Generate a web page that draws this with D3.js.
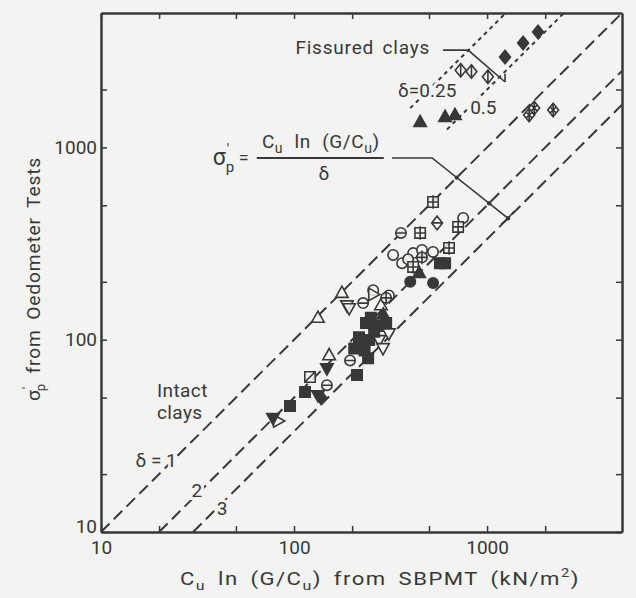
<!DOCTYPE html>
<html>
<head>
<meta charset="utf-8">
<title>Preconsolidation pressure vs SBPMT</title>
<script src="https://d3js.org/d3.v7.min.js"></script>
<style>
  body { margin: 0; background: #f3f3f1; }
  svg { display: block; font-family: Roboto, 'Open Sans', sans-serif; }
  .axis path, .axis line { stroke: #383838; }
  .axis path { stroke-width: 2.5; }
  .axis line { stroke-width: 1.5; }
  .axis text { font-family: Roboto, sans-serif; font-size: 19px; fill: #383838; }
  .lbl { fill: #383838; }
</style>
</head>
<body>
<svg id="chart" width="636" height="598"></svg>
<script>
// ticks
const tickVals = [10, 20, 50, 100, 200, 500, 1000, 2000];
const tickLabels = [10, 100, 1000];

// reference lines  sigma'p = Cu ln(G/Cu) / delta
const intactDeltas = [1, 2, 3];
const fissuredDeltas = [0.25, 0.5];
const fissuredXRange = [[400, 1250], [620, 2500]];

// fissured clays  [Cu ln(G/Cu), sigma'p]
const fisFilledDiamond = [[1239, 2951], [1537, 3490], [1837, 3981]];
const fisBarDiamond = [[730, 2520], [830, 2480], [1010, 2330]];
const fisFilledTri = [[450, 1355], [606, 1439], [682, 1473]];
const fisCrossDiamond = [[1651, 1473], [1754, 1603], [2199, 1565]];

// intact clays
const intSqFilled = [[570, 250], [606, 250], [236, 122], [217, 103], [228, 99.6], [245, 99.6],
  [242, 80], [212, 65.5], [114, 53.5], [95.3, 45.2], [260, 110], [250, 130], [205, 90], [300, 122],
  [270, 118], [232, 88]];
const intSqCross = [[525, 520], [450, 359], [708, 386], [635, 300], [414, 239]];
const intSqSlash = [[121, 64]];
const intDiamondBar = [[551, 405]];
const intCircleBar = [[358, 359], [228, 155], [195, 78], [148, 58]];
const intCircleOpen = [[752, 430], [326, 276], [363, 250], [414, 282], [460, 293], [525, 286], [257, 181], [310, 170], [390, 262]];
const intCircleFilled = [[525, 197], [400, 200]];
const intCirclePlus = [[300, 165], [460, 268]];
const intTriOpen = [[133, 130], [177, 175], [282, 151], [152, 83]];
const intTriFilled = [[445, 222], [290, 135]];
const intTriDownOpen = [[188, 151], [193, 146], [276, 99.6], [289, 90.5], [310, 108]];
const intTriDownFilled = [[148, 71], [77.8, 39.2], [133, 51.5]];
const intTriRight = [[82.6, 37.8], [257, 172]];
const intDiamondFilled = [[138, 50]];

// annotation anchors (data units)
const formulaAnchor = [136, 881];
const formulaLeader = [[322, 881], [519, 881], [1285, 428]];
const fissuredLeader = [[591, 3206], [798, 3206], [1239, 2188]];
const deltaLabels = [
  { t: 'δ = 1', x: 19.3, y: 23.7 },
  { t: '2', x: 31.4, y: 16.5 },
  { t: '3', x: 42.4, y: 13.3 },
  { t: 'δ=0.25', x: 346, y: 1828, a: 'start' },
  { t: '0.5', x: 817, y: 1492, a: 'start' }
];

const ink = '#383838';
const bg = '#f3f3f1';
const svg = d3.select('#chart');

const x = d3.scaleLog().domain([10, 5000]).range([101, 622]);
const y = d3.scaleLog().domain([10, 5000]).range([532, 13]);

// axes
const fmt = d => tickLabels.includes(d) ? d : '';
svg.append('g').attr('class', 'axis').attr('transform', 'translate(0,532)')
  .call(d3.axisBottom(x).tickValues(tickVals).tickFormat(fmt).tickSize(-6).tickSizeOuter(0).tickPadding(9));
const yAxis = svg.append('g').attr('class', 'axis').attr('transform', 'translate(101,0)')
  .call(d3.axisLeft(y).tickValues(tickVals).tickFormat(fmt).tickSize(-6).tickSizeOuter(0).tickPadding(4));
yAxis.selectAll('.tick text').filter(d => d === 10).attr('dy', '0.05em');
svg.append('g').attr('class', 'axis').attr('transform', 'translate(0,13)')
  .call(d3.axisTop(x).tickValues(tickVals).tickFormat('').tickSize(-6).tickSizeOuter(0));
svg.append('g').attr('class', 'axis').attr('transform', 'translate(622,0)')
  .call(d3.axisRight(y).tickValues(tickVals).tickFormat('').tickSize(-6).tickSizeOuter(0));

// reference lines
const line = d3.line().x(d => x(d[0])).y(d => y(d[1]));
svg.selectAll('.intact').data(intactDeltas).enter().append('path')
  .attr('d', dl => line([[10 * dl, 10], [5000, 5000 / dl]]))
  .attr('fill', 'none').attr('stroke', ink).attr('stroke-width', 2)
  .attr('stroke-dasharray', '12,6');
svg.selectAll('.fiss').data(fissuredDeltas).enter().append('path')
  .attr('d', (dl, i) => line(fissuredXRange[i].map(v => [v, v / dl])))
  .attr('fill', 'none').attr('stroke', ink).attr('stroke-width', 2)
  .attr('stroke-dasharray', '4,4');

// leaders
[formulaLeader, fissuredLeader].forEach(pts => {
  svg.append('path').attr('d', line(pts)).attr('fill', 'none')
    .attr('stroke', ink).attr('stroke-width', 1.6);
});
// marks where the formula leader crosses the delta lines
const a = formulaLeader[1], b = formulaLeader[2];
intactDeltas.forEach(dl => {
  const la = Math.log10(a[1]) - Math.log10(a[0]), lb = Math.log10(b[1]) - Math.log10(b[0]);
  const t = (-Math.log10(dl) - la) / (lb - la);
  if (t < 0 || t > 1) return;
  const px = 10 ** (Math.log10(a[0]) + t * (Math.log10(b[0]) - Math.log10(a[0])));
  const py = 10 ** (Math.log10(a[1]) + t * (Math.log10(b[1]) - Math.log10(a[1])));
  svg.append('circle').attr('cx', x(px)).attr('cy', y(py)).attr('r', 2.2).attr('fill', ink);
});
svg.append('path')
  .attr('d', `M${x(b[0]) - 7},${y(b[1]) + 6}L${x(b[0])},${y(b[1])}L${x(b[0]) + 6},${y(b[1]) - 7}`)
  .attr('fill', 'none').attr('stroke', ink).attr('stroke-width', 1.6);
const fe = fissuredLeader[2];
svg.append('path').attr('d', `M${x(fe[0])},${y(fe[1]) - 8}V${y(fe[1])}`)
  .attr('stroke', ink).attr('stroke-width', 1.6);

// symbols
const s = 5.2;
function shape(kind, cx, cy) {
  switch (kind) {
    case 'square': return `M${cx - s},${cy - s}h${2 * s}v${2 * s}h${-2 * s}Z`;
    case 'tri': return `M${cx},${cy - s * 1.3}L${cx + s * 1.2},${cy + s * 0.85}L${cx - s * 1.2},${cy + s * 0.85}Z`;
    case 'triDown': return `M${cx},${cy + s * 1.3}L${cx + s * 1.2},${cy - s * 0.85}L${cx - s * 1.2},${cy - s * 0.85}Z`;
    case 'triRight': return `M${cx - s * 0.85},${cy - s * 1.2}L${cx + s * 1.3},${cy}L${cx - s * 0.85},${cy + s * 1.2}Z`;
    case 'diamond': return `M${cx},${cy - s * 1.3}L${cx + s * 1.05},${cy}L${cx},${cy + s * 1.3}L${cx - s * 1.05},${cy}Z`;
    case 'circle': return `M${cx - s},${cy}a${s},${s} 0 1,0 ${2 * s},0a${s},${s} 0 1,0 ${-2 * s},0Z`;
  }
}
function inner(kind, cx, cy) {
  const h = `M${cx - s},${cy}H${cx + s}`, v = `M${cx},${cy - s * 1.3}V${cy + s * 1.3}`;
  if (kind === 'h') return h;
  if (kind === 'v') return v;
  if (kind === 'plus') return h + v;
  if (kind === 'slash') return `M${cx - s},${cy + s}L${cx + s},${cy - s}`;
  if (kind === 'cross') return `M${cx - s * 0.6},${cy - s * 0.6}L${cx + s * 0.6},${cy + s * 0.6}M${cx + s * 0.6},${cy - s * 0.6}L${cx - s * 0.6},${cy + s * 0.6}` + v;
  return '';
}
const series = [
  { pts: fisFilledDiamond, k: 'diamond', fill: true },
  { pts: fisBarDiamond, k: 'diamond', fill: false, in: 'v' },
  { pts: fisFilledTri, k: 'tri', fill: true },
  { pts: fisCrossDiamond, k: 'diamond', fill: false, in: 'cross' },
  { pts: intCircleOpen, k: 'circle', fill: false },
  { pts: intTriOpen, k: 'tri', fill: false },
  { pts: intTriDownOpen, k: 'triDown', fill: false },
  { pts: intTriRight, k: 'triRight', fill: false },
  { pts: intSqCross, k: 'square', fill: false, in: 'plus' },
  { pts: intSqSlash, k: 'square', fill: false, in: 'slash' },
  { pts: intDiamondBar, k: 'diamond', fill: false, in: 'h' },
  { pts: intCircleBar, k: 'circle', fill: false, in: 'h' },
  { pts: intCirclePlus, k: 'circle', fill: false, in: 'plus' },
  { pts: intSqFilled, k: 'square', fill: true },
  { pts: intCircleFilled, k: 'circle', fill: true },
  { pts: intTriFilled, k: 'tri', fill: true },
  { pts: intTriDownFilled, k: 'triDown', fill: true },
  { pts: intDiamondFilled, k: 'diamond', fill: true }
];
series.forEach(sr => {
  const g = svg.append('g');
  g.selectAll('path.m').data(sr.pts).enter().append('path')
    .attr('d', d => shape(sr.k, x(d[0]), y(d[1])) + (sr.in ? inner(sr.in, x(d[0]), y(d[1])) : ''))
    .attr('fill', sr.fill ? ink : bg).attr('fill-opacity', sr.fill ? 1 : 0.85)
    .attr('stroke', ink).attr('stroke-width', 1.6);
});

// line labels
svg.selectAll('.dlab').data(deltaLabels).enter().append('text')
  .attr('class', 'lbl')
  .attr('x', d => x(d.x)).attr('y', d => y(d.y))
  .attr('text-anchor', d => d.a || 'middle')
  .attr('dy', d => d.a ? 0 : '0.35em')
  .attr('font-size', 19)
  .attr('stroke', bg).attr('stroke-width', 6).attr('paint-order', 'stroke')
  .text(d => d.t);

// Fissured / Intact labels
svg.append('text').attr('class', 'lbl').attr('x', x(507)).attr('y', y(3060))
  .attr('text-anchor', 'end').attr('font-size', 19).attr('letter-spacing', 0.8)
  .attr('word-spacing', 3).text('Fissured clays');
const intact = svg.append('text').attr('class', 'lbl').attr('font-size', 19).attr('letter-spacing', 0.4);
intact.append('tspan').attr('x', x(19.5)).attr('y', y(50.4)).text('Intact');
intact.append('tspan').attr('x', x(19.5)).attr('y', y(38.7)).text('clays');

// formula
const fx = x(formulaAnchor[0]), fy = y(formulaAnchor[1]);
svg.append('text').attr('class', 'lbl').attr('x', fx - 107).attr('y', fy + 7).attr('font-size', 23).text('σ');
svg.append('text').attr('class', 'lbl').attr('x', fx - 93).attr('y', fy - 4).attr('font-size', 15).text('\u2032');
svg.append('text').attr('class', 'lbl').attr('x', fx - 94).attr('y', fy + 14).attr('font-size', 15).text('p');
svg.append('text').attr('class', 'lbl').attr('x', fx - 81).attr('y', fy + 6).attr('font-size', 18).text('=');
const num = svg.append('text').attr('class', 'lbl').attr('x', fx + 1).attr('y', fy - 10)
  .attr('text-anchor', 'middle').attr('font-size', 19).attr('word-spacing', 6).attr('letter-spacing', 0.6);
num.append('tspan').text('C');
num.append('tspan').attr('font-size', 14).attr('dy', 5).text('u');
num.append('tspan').attr('dy', -5).text(' ln (G/C');
num.append('tspan').attr('font-size', 14).attr('dy', 5).text('u');
num.append('tspan').attr('dy', -5).text(')');
svg.append('line').attr('x1', fx - 63).attr('x2', fx + 64).attr('y1', fy).attr('y2', fy)
  .attr('stroke', ink).attr('stroke-width', 1.8);
svg.append('text').attr('class', 'lbl').attr('x', fx + 4).attr('y', fy + 22)
  .attr('text-anchor', 'middle').attr('font-size', 19).text('δ');

// axis titles (the lettering in the source is wide, so stretch to its span)
const xt = svg.append('text').attr('class', 'lbl').attr('x', 0).attr('y', 0)
  .attr('font-size', 18).attr('letter-spacing', 1.2).attr('word-spacing', 4);
xt.append('tspan').text('C');
xt.append('tspan').attr('font-size', 13).attr('dy', 5).text('u');
xt.append('tspan').attr('dy', -5).text(' ln (G/C');
xt.append('tspan').attr('font-size', 13).attr('dy', 5).text('u');
xt.append('tspan').attr('dy', -5).text(') from SBPMT (kN/m');
xt.append('tspan').attr('font-size', 12).attr('dy', -8).text('2');
xt.append('tspan').attr('dy', 8).text(')');
const xw = xt.node().getBBox().width;
xt.attr('transform', `translate(180,585) scale(${400 / xw},1)`);

const yt = svg.append('text').attr('class', 'lbl')
  .attr('font-size', 19).attr('letter-spacing', 0.8).attr('word-spacing', 4);
yt.append('tspan').text('σ');
yt.append('tspan').attr('font-size', 13).attr('dy', -8).text('\u2032');
yt.append('tspan').attr('font-size', 13).attr('dx', -5).attr('dy', 13).text('p');
yt.append('tspan').attr('dy', -5).text(' from Oedometer Tests');
const yw = yt.node().getBBox().width;
yt.attr('transform', `translate(40,401) rotate(-90) scale(${244 / yw},1)`);
</script>
</body>
</html>
